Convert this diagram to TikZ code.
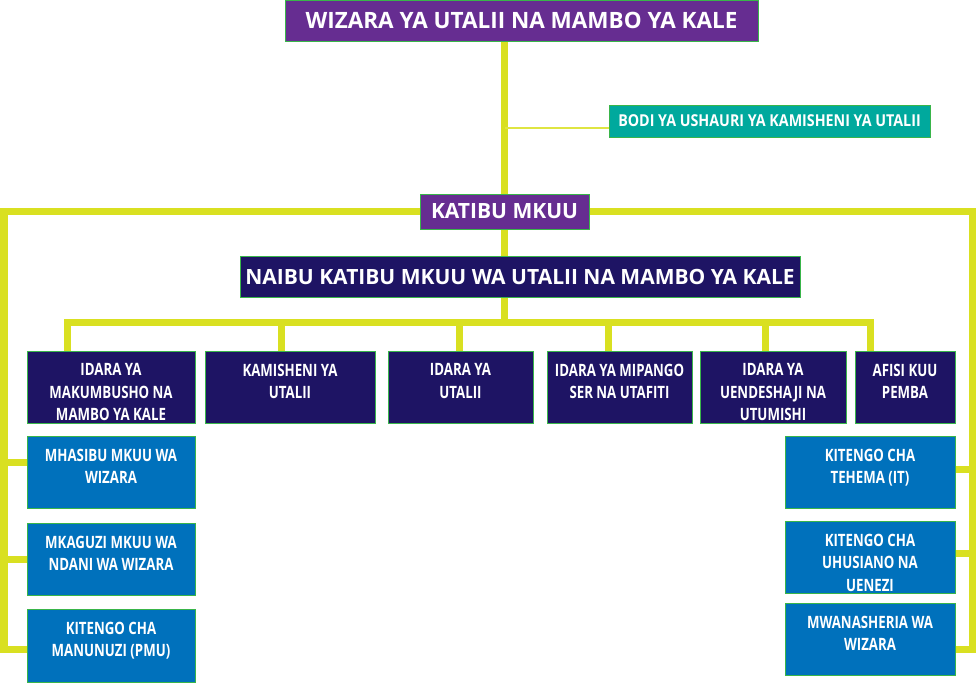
\documentclass[tikz,border=0pt]{standalone}
\usepackage{fontspec}
\setmainfont{Open Sans}
\newfontfamily\condfont{Open Sans}[FakeStretch=0.78]
\newfontfamily\midfont{Open Sans}[FakeStretch=0.87]
\usetikzlibrary{positioning,backgrounds}

\definecolor{wizpurple}{HTML}{662D91}
\definecolor{wiznavy}{HTML}{1E1464}
\definecolor{wizteal}{HTML}{00A99D}
\definecolor{wizblue}{HTML}{0071BC}
\definecolor{wizline}{HTML}{D9E021}
\definecolor{wizedge}{HTML}{39B54A}

\tikzset{
  orgbox/.style={draw=wizedge,line width=0.9pt,text=white,inner sep=0pt,font=\condfont\bfseries},
  headbox/.style={orgbox,fill=wizpurple},
  deptbox/.style={orgbox,fill=wiznavy,minimum height=72pt},
  unitbox/.style={orgbox,fill=wizblue,minimum height=72pt},
  boxlabel/.style={anchor=north,yshift=-13pt,align=center,text=white,inner sep=0pt,
    font=\condfont\bfseries\fontsize{17}{22.5}\selectfont},
  bus/.style={draw=wizline,line width=7pt},
}

\begin{document}
\begin{tikzpicture}[x=1pt,y=-1pt]
\useasboundingbox (0,0) rectangle (976,682);

% top of the tree
\node[headbox,minimum width=473pt,minimum height=41pt,font=\bfseries\fontsize{22.5}{26}\selectfont] (wizara) at (521.5,20.5) {WIZARA YA UTALII NA MAMBO YA KALE};
\node[orgbox,fill=wizteal,minimum width=321pt,minimum height=32pt,font=\midfont\bfseries\fontsize{16.4}{20}\selectfont] (bodi) at (769.5,121) {BODI YA USHAURI YA KAMISHENI YA UTALII};
\node[headbox,minimum width=169pt,minimum height=35pt,font=\bfseries\fontsize{21}{25}\selectfont] (katibu) at (504.5,211.5) {KATIBU MKUU};
\node[orgbox,fill=wiznavy,minimum width=560pt,minimum height=41pt,font=\bfseries\fontsize{21}{25}\selectfont] (naibu) at (520,276.5) {NAIBU KATIBU MKUU WA UTALII NA MAMBO YA KALE};

% departments
\node[deptbox,minimum width=168pt,label={[boxlabel]north:IDARA YA\\MAKUMBUSHO NA\\MAMBO YA KALE}] (makumbusho) at (111,387) {};
\node[deptbox,minimum width=170pt,label={[boxlabel]north:KAMISHENI YA\\UTALII}] (kamisheni) at (290,387) {};
\node[deptbox,minimum width=145pt,label={[boxlabel]north:IDARA YA\\UTALII}] (idarautalii) at (460.5,387) {};
\node[deptbox,minimum width=145pt,label={[boxlabel]north:IDARA YA MIPANGO\\SER NA UTAFITI}] (mipango) at (619.5,387) {};
\node[deptbox,minimum width=146pt,label={[boxlabel]north:IDARA YA\\UENDESHAJI NA\\UTUMISHI}] (uendeshaji) at (773,387) {};
\node[deptbox,minimum width=100pt,label={[boxlabel]north:AFISI KUU\\PEMBA}] (pemba) at (905,387) {};

% units left
\node[unitbox,minimum width=168pt,label={[boxlabel]north:MHASIBU MKUU WA\\WIZARA}] (mhasibu) at (111,472) {};
\node[unitbox,minimum width=168pt,label={[boxlabel]north:MKAGUZI MKUU WA\\NDANI WA WIZARA}] (mkaguzi) at (111,559) {};
\node[unitbox,minimum width=168pt,minimum height=73pt,label={[boxlabel]north:KITENGO CHA\\MANUNUZI (PMU)}] (manunuzi) at (111,645.5) {};

% units right
\node[unitbox,minimum width=170pt,label={[boxlabel]north:KITENGO CHA\\TEHEMA (IT)}] (tehema) at (870,472) {};
\node[unitbox,minimum width=170pt,label={[boxlabel]north:KITENGO CHA\\UHUSIANO NA\\UENEZI}] (uhusiano) at (870,557) {};
\node[unitbox,minimum width=170pt,label={[boxlabel]north:MWANASHERIA WA\\WIZARA}] (mwanasheria) at (870,639) {};

\coordinate (busR) at (870,322);
\coordinate (lbot) at (4,649);
\coordinate (rbot) at (972,649);

\begin{scope}[on background layer]
  \draw[bus] (katibu.north) -- (katibu.north |- wizara.south);
  \draw[draw=wizline!85,line width=2pt] ([yshift=-6.5pt]bodi.west) -- ([yshift=-6.5pt]bodi.west -| katibu.north);
  \draw[bus] (katibu.south) -- (katibu.south |- naibu.north);
  \draw[bus] (naibu.south -| katibu.south) -- (katibu.south |- busR);
  % bus to the departments
  \draw[bus] ([xshift=-44pt]makumbusho.north) |- (busR) -- (busR |- pemba.north);
  \foreach \n/\s in {kamisheni/-9,idarautalii/-1.5,mipango/-11.5,uendeshaji/-8}
    \draw[bus] ([xshift=\s pt]\n.north) -- ([xshift=\s pt]\n.north |- busR);
  % side loops
  \draw[bus] (katibu.west) -| (lbot) -- (manunuzi.west |- lbot);
  \draw[bus] (katibu.east) -| (rbot) -- (mwanasheria.east |- rbot);
  \foreach \n/\s in {mhasibu/10,mkaguzi/0}
    \draw[bus] ([yshift=\s pt]\n.west) -- ([yshift=\s pt]\n.west -| lbot);
  \foreach \n/\s in {tehema/2.5,uhusiano/3.5}
    \draw[bus] ([yshift=\s pt]\n.east) -- ([yshift=\s pt]\n.east -| rbot);
\end{scope}
\end{tikzpicture}
\end{document}
